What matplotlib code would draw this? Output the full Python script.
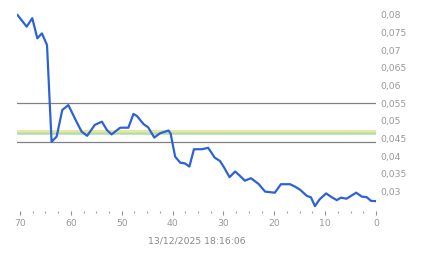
import matplotlib
matplotlib.use("Agg")
import matplotlib.pyplot as plt
from matplotlib.ticker import MultipleLocator

# minutes ago / price
minutes = [70.5, 68.7, 67.6, 66.6, 65.7, 64.7, 63.8, 62.8, 61.7, 60.5,
           58.9, 57.9, 56.8, 55.3, 53.9, 52.9, 52.0, 50.3, 48.7, 47.7,
           47.0, 45.7, 44.8, 43.6, 42.5, 40.8, 40.4, 39.5, 38.5, 37.6,
           36.7, 35.8, 34.3, 33.0, 31.7, 30.7, 29.9, 28.8, 27.7, 26.7,
           25.8, 24.6, 23.1, 21.8, 19.9, 18.7, 16.9, 15.9, 14.9, 13.6,
           12.8, 12.0, 11.1, 9.8, 8.7, 7.7, 6.9, 5.8, 3.9, 2.8,
           1.8, 1.0, 0.0]
price = [0.0800, 0.0767, 0.0791, 0.0734, 0.0748, 0.0715, 0.0441, 0.0456, 0.0531, 0.0545,
         0.0498, 0.0470, 0.0458, 0.0489, 0.0498, 0.0474, 0.0462, 0.0481, 0.0481, 0.0520,
         0.0514, 0.0491, 0.0482, 0.0453, 0.0465, 0.0473, 0.0465, 0.0399, 0.0382, 0.0380,
         0.0371, 0.0420, 0.0420, 0.0424, 0.0396, 0.0387, 0.0369, 0.0341, 0.0357, 0.0344,
         0.0331, 0.0338, 0.0322, 0.0300, 0.0297, 0.0321, 0.0321, 0.0314, 0.0305, 0.0288,
         0.0284, 0.0259, 0.0278, 0.0295, 0.0284, 0.0276, 0.0283, 0.0280, 0.0297, 0.0286,
         0.0284, 0.0274, 0.0273]

# reference levels
gray_levels = [0.055, 0.0441]
yellow_level = 0.0472
green_level = 0.0465

ytick_vals = [0.03, 0.035, 0.04, 0.045, 0.05, 0.055, 0.06, 0.065, 0.07, 0.075, 0.08]
ytick_labels = ["0,03", "0,035", "0,04", "0,045", "0,05", "0,055", "0,06",
                "0,065", "0,07", "0,075", "0,08"]
xtick_vals = [70, 60, 50, 40, 30, 20, 10, 0]
xlabel = "13/12/2025 18:16:06"

fig = plt.figure(figsize=(4.43, 2.58), dpi=100)
ax = fig.add_axes([17 / 443, 47 / 258, 359 / 443, 203 / 258])

for lv in gray_levels:
    ax.axhline(lv, color="#808080", lw=0.9, zorder=1)
ax.axhline(yellow_level, color="#e6e08c", lw=1.2, zorder=1)
ax.axhline(green_level, color="#b4dca0", lw=1.8, zorder=1)

ax.plot(minutes, price, color="#2d62d6", lw=1.6, zorder=3)

ax.set_xlim(70.6, 0)
ax.set_ylim(0.02452, 0.08198)

for s in ax.spines.values():
    s.set_visible(False)

ax.set_xticks(xtick_vals)
ax.xaxis.set_minor_locator(MultipleLocator(2.5))
ax.tick_params(axis="x", which="major", length=3, width=0.8, color="#909090",
               labelsize=6.7, labelcolor="#999999", pad=3)
ax.tick_params(axis="x", which="minor", length=1.5, width=0.8, color="#a0a0a0")

ax.yaxis.tick_right()
ax.set_yticks(ytick_vals)
ax.set_yticklabels(ytick_labels)
ax.tick_params(axis="y", length=0, labelsize=6.7, labelcolor="#999999", pad=3)

ax.set_xlabel(xlabel, fontsize=6.7, color="#888888", labelpad=6)

fig.savefig("out.png", dpi=100)
